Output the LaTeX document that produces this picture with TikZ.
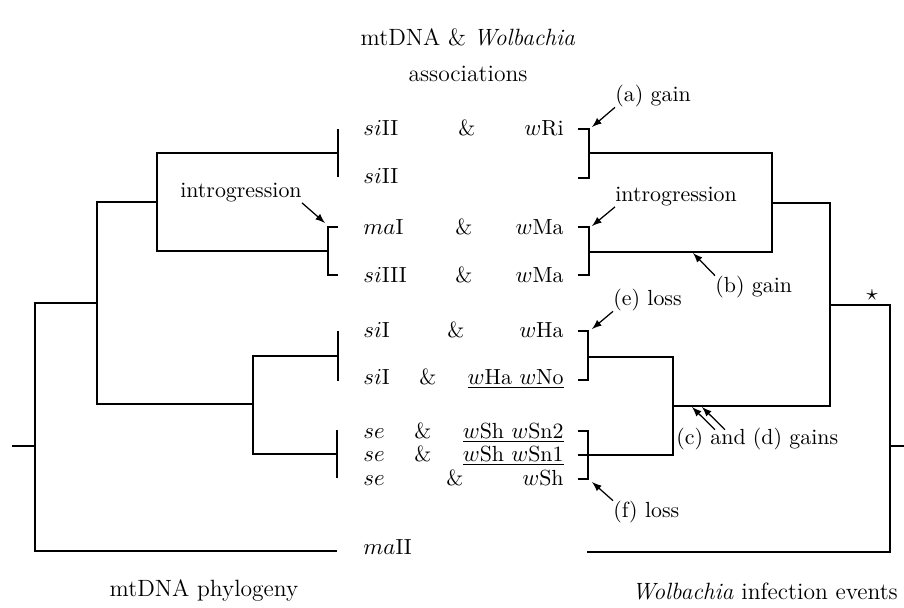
\documentclass[tikz,border=0pt]{standalone}
\usepackage{amsmath}
\usepackage{amssymb}
\usetikzlibrary{calc}

\tikzset{
  lbl/.style={inner sep=0pt, font=\fontsize{10.5}{12}\selectfont},
  caption/.style={inner sep=0pt, font=\fontsize{11.3}{13}\selectfont},
  branch/.style={line width=0.7pt},
  pointer/.style={->, >=latex, line width=0.6pt},
}

\begin{document}
\begin{tikzpicture}[x=0.48pt, y=-0.48pt]
			\useasboundingbox (0,0) rectangle (904,608);
			% headings
			\node[caption] (head1) at (468,37) {mtDNA \& \textit{Wolbachia}};
			\node[caption] (head2) at (468,74) {associations};
			\node[caption] (foot1) at (204,591) {mtDNA phylogeny};
			\node[caption] (foot2) at (765,591) {\textit{Wolbachia} infection events};
			% mtDNA types
			\node[lbl, anchor=base west] (mt1) at (363,135) {$si$II};
			\node[lbl, anchor=base west] (mt2) at (363,183) {$si$II};
			\node[lbl, anchor=base west] (mt3) at (363,234) {$ma$I};
			\node[lbl, anchor=base west] (mt4) at (363,282) {$si$III};
			\node[lbl, anchor=base west] (mt5) at (363,337) {$si$I};
			\node[lbl, anchor=base west] (mt6) at (363,384) {$si$I};
			\node[lbl, anchor=base west] (mt7) at (363,438) {$se$};
			\node[lbl, anchor=base west] (mt8) at (363,461) {$se$};
			\node[lbl, anchor=base west] (mt9) at (363,485) {$se$};
			\node[lbl, anchor=base west] (mt10) at (363,554) {$ma$II};
			% ampersands
			\node[lbl, anchor=base] (am1) at (467,135) {\&};
			\node[lbl, anchor=base] (am3) at (464,234) {\&};
			\node[lbl, anchor=base] (am4) at (464,282) {\&};
			\node[lbl, anchor=base] (am5) at (456,337) {\&};
			\node[lbl, anchor=base] (am6) at (428,384) {\&};
			\node[lbl, anchor=base] (am7) at (423,438) {\&};
			\node[lbl, anchor=base] (am8) at (423,461) {\&};
			\node[lbl, anchor=base] (am9) at (455,485) {\&};
			% Wolbachia strains
			\node[lbl, anchor=base east] (wb1) at (564,135) {$w$Ri};
			\node[lbl, anchor=base east] (wb3) at (564,234) {$w$Ma};
			\node[lbl, anchor=base east] (wb4) at (564,282) {$w$Ma};
			\node[lbl, anchor=base east] (wb5) at (564,337) {$w$Ha};
			\node[lbl, anchor=base east] (wb6) at (564,384) {\underline{$w$Ha $w$No}};
			\node[lbl, anchor=base east] (wb7) at (564,438) {\underline{$w$Sh $w$Sn2}};
			\node[lbl, anchor=base east] (wb8) at (564,461) {\underline{$w$Sh $w$Sn1}};
			\node[lbl, anchor=base east] (wb9) at (564,485) {$w$Sh};
			% mtDNA tree
			\draw[branch] (338,129) -- (338,177);
			\draw[branch] (338,227) -| (328,275) -- (338,275);
			\draw[branch] (338,331) -- (338,381);
			\draw[branch] (337,430) -- (337,478);
			\draw[branch] (338,153) -| (157,251) -- (328,251);
			\draw[branch] (338,356) -| (253,454) -- (337,454);
			\draw[branch] (157,202) -| (97,404) -- (253,404);
			\draw[branch] (97,303) -| (35,551) -- (337,551);
			\draw[branch] (12,446) -- (35,446);
			% Wolbachia tree
			\draw[branch] (578,129) -| (589,178) -- (578,178);
			\draw[branch] (578,227) -| (589,275) -- (578,275);
			\draw[branch] (578,331) -| (588,380) -- (578,380);
			\draw[branch] (578,431) -| (588,479) -- (578,479);
			\draw[branch] (588,357) -| (673,455) -- (578,455);
			\draw[branch] (589,153) -| (772,252) -- (589,252);
			\draw[branch] (673,406) -| (830,203) -- (772,203);
			\draw[branch] (830,305) -| (890,552) -- (587,552);
			\draw[branch] (890,446) -- (904,446);
			\node[lbl] (star) at (872,295) {$\star$};
			% events
			\node[lbl, anchor=east] (introL) at (302,193) {introgression};
			\node[lbl, anchor=west] (introR) at (615,197) {introgression};
			\node[lbl, anchor=west] (gainA) at (615,96) {(a) gain};
			\node[lbl, anchor=west] (gainB) at (715,287) {(b) gain};
			\node[lbl, anchor=west] (lossE) at (613,300) {(e) loss};
			\node[lbl, anchor=west] (gainsCD) at (676,439) {(c) and (d) gains};
			\node[lbl, anchor=west] (lossF) at (613,512) {(f) loss};
			\coordinate (tipIL) at (325,223);
			\coordinate (tipIR) at (592,226);
			\coordinate (tipA) at (592,127);
			\coordinate (tipB) at (693,253);
			\coordinate (tipE) at (592,329);
			\coordinate (tipC) at (692,407);
			\coordinate (tipD) at (702,407);
			\coordinate (tipF) at (592,482);
			\draw[pointer] (introL.south east) -- (tipIL);
			\draw[pointer] (introR.south west) -- (tipIR);
			\draw[pointer] (gainA.south west) -- (tipA);
			\draw[pointer] (gainB.north west) -- (tipB);
			\draw[pointer] (lossE.south west) -- (tipE);
			\draw[pointer] ($(gainsCD.north west)+(39,2)$) -- (tipC);
			\draw[pointer] ($(gainsCD.north west)+(49,2)$) -- (tipD);
			\draw[pointer] (lossF.north west) -- (tipF);
		\end{tikzpicture}
\end{document}
